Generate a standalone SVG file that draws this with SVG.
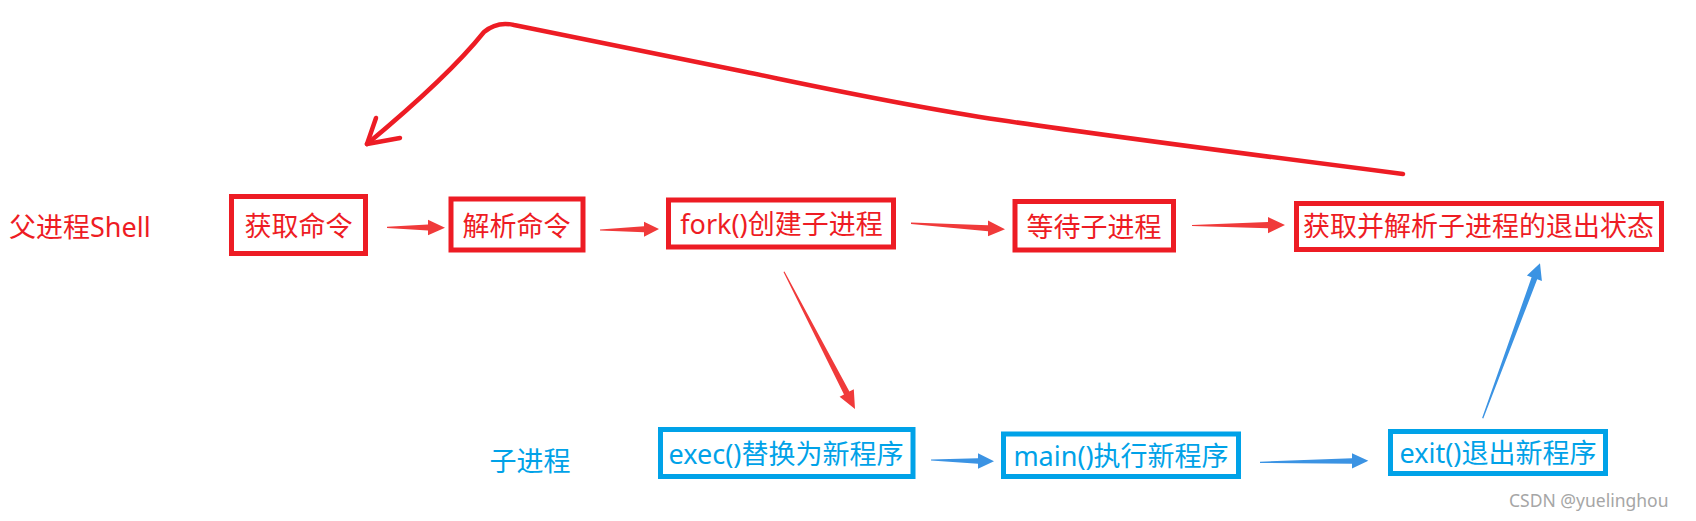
<svg xmlns="http://www.w3.org/2000/svg" width="1696" height="521" viewBox="0 0 1696 521">
<style>
  text { font-family: "Noto Sans", "Noto Sans CJK SC", sans-serif; font-size: 27px; dominant-baseline: central; }
  .rt { fill: #ee1c24; }
  .bt { fill: #00a2e8; }
  .rbox { fill: #ffffff; stroke: #ed1c24; stroke-width: 5; }
  .bbox { fill: #ffffff; stroke: #00a2e8; stroke-width: 5; }
  .ra { fill: #f03a3a; stroke: none; }
  .ba { fill: #3b93e3; stroke: none; }
  .curve { fill: none; stroke: #ed1c24; stroke-width: 4.5; stroke-linecap: round; stroke-linejoin: round; }
  .wm { font-size: 17.5px; fill: #a6a6a6; }
</style>
<rect width="1696" height="521" fill="#ffffff"/>

<g id="labels">
  <text class="rt" x="9" y="226">父进程Shell</text>
  <text class="bt" x="530" y="460" text-anchor="middle">子进程</text>
</g>

<g id="connectors">
  <path class="curve" d="M1403,174 C1270,157 1100,135 1000,120 C900,105 800,83 746,72 L514,25 Q497,21 484,32 C460,62 420,100 367,144"/>
  <path class="curve" d="M376,118 L367,144 L400,138"/>
  <polygon class="ra" points="387,226.8 428,224.6 428,219.8 445,227.7 428,235.2 428,230.6 387,227.9"/>
  <polygon class="ra" points="600,229.4 644,226.2 644,221.7 659,229 644,236.7 644,232.2 600,230.6"/>
  <polygon class="ra" points="911,222.6 988,225.2 988,220.4 1005,229.3 988,236.2 988,231.2 911,224"/>
  <polygon class="ra" points="1192,224.9 1268,222 1268,217 1285,225 1268,233.2 1268,228.2 1192,226.1"/>
  <polygon class="ra" points="783.5,272 844,394.4 839.6,396.7 855,409 853.8,389.3 849.4,391.6 784.5,271.4"/>
  <polygon class="ba" points="931,459.4 978,458.2 978,453.2 994,461.3 978,468.8 978,463.8 931,460.6"/>
  <polygon class="ba" points="1260,461.7 1352,458.2 1352,453.3 1368.3,460.7 1352,468.5 1352,463.8 1260,462.9"/>
  <polygon class="ba" points="1482.1,418.1 1531.6,277.3 1526.9,275.5 1540,263.3 1541.9,281.1 1537.2,279.3 1483.3,418.5"/>
</g>

<g id="n1">
  <rect class="rbox" x="231.5" y="196.5" width="134" height="57"/>
  <text class="rt" x="298.5" y="225" text-anchor="middle">获取命令</text>
</g>
<g id="n2">
  <rect class="rbox" x="451" y="199" width="132" height="51"/>
  <text class="rt" x="516.5" y="225" text-anchor="middle">解析命令</text>
</g>
<g id="n3">
  <rect class="rbox" x="668.5" y="200" width="225" height="47"/>
  <text class="rt" x="781.5" y="223" text-anchor="middle">fork()创建子进程</text>
</g>
<g id="n4">
  <rect class="rbox" x="1015" y="201.5" width="158.5" height="48.5"/>
  <text class="rt" x="1094" y="226.5" text-anchor="middle">等待子进程</text>
</g>
<g id="n5">
  <rect class="rbox" x="1296.5" y="203.5" width="365" height="46"/>
  <text class="rt" x="1478.5" y="225.5" text-anchor="middle">获取并解析子进程的退出状态</text>
</g>
<g id="n6">
  <rect class="bbox" x="660.5" y="429.5" width="252.5" height="47"/>
  <text class="bt" x="786" y="453" text-anchor="middle">exec()替换为新程序</text>
</g>
<g id="n7">
  <rect class="bbox" x="1003.5" y="434" width="235" height="42.5"/>
  <text class="bt" x="1121" y="455" text-anchor="middle">main()执行新程序</text>
</g>
<g id="n8">
  <rect class="bbox" x="1390.5" y="431.5" width="215" height="42"/>
  <text class="bt" x="1498" y="452" text-anchor="middle">exit()退出新程序</text>
</g>

<text class="wm" x="1509" y="500">CSDN @yuelinghou</text>
</svg>
